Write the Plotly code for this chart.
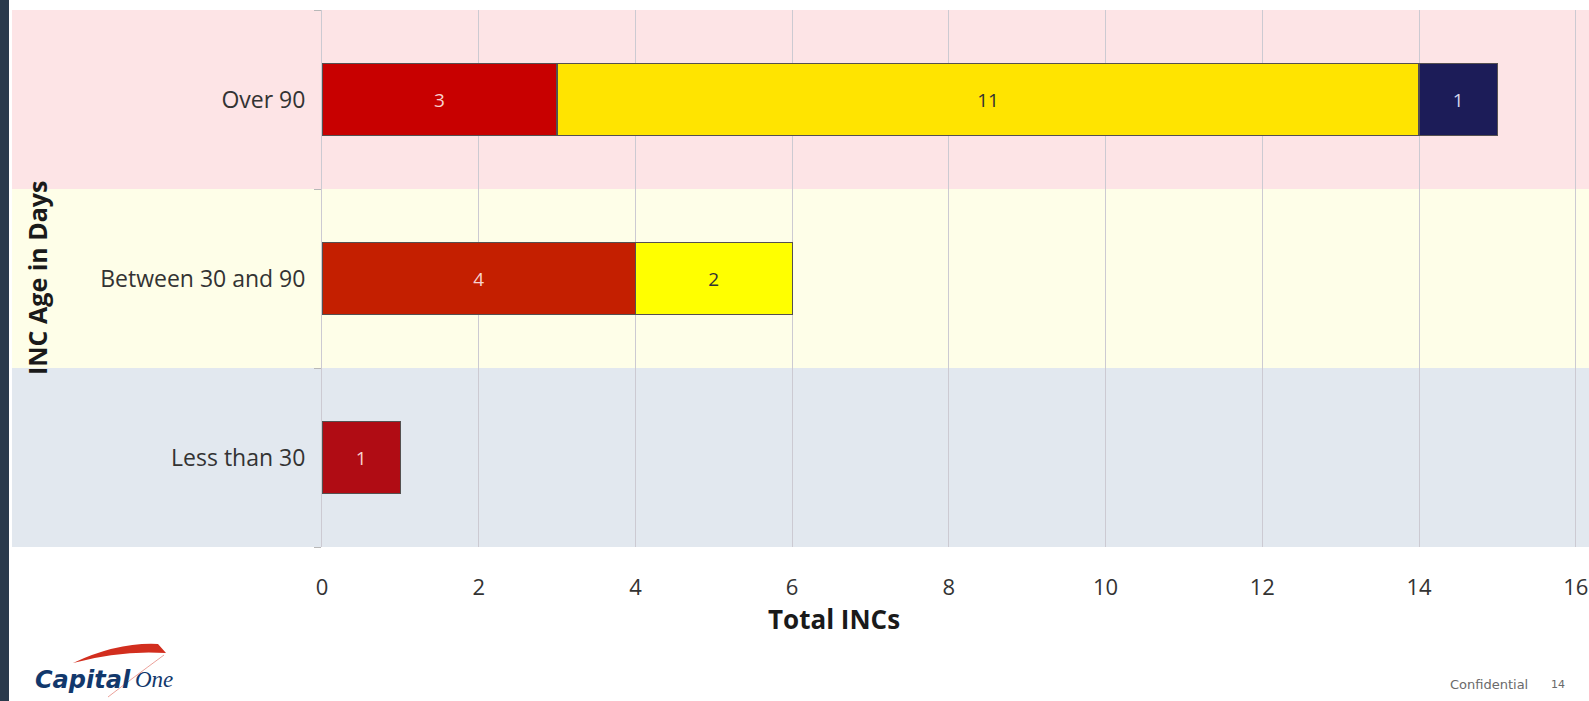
import plotly.graph_objects as go

# ---- data ----
categories = ["Less than 30", "Between 30 and 90", "Over 90"]
red_counts = [1, 4, 3]
yellow_counts = [None, 2, 11]
navy_counts = [None, None, 1]
x_ticks = [0, 2, 4, 6, 8, 10, 12, 14, 16]

red_colors = ["#B00C14", "#C41F00", "#C80000"]
yellow_colors = ["#FFFF00", "#FFFF00", "#FFE400"]
navy_colors = ["#1C1C58", "#1C1C58", "#1C1C58"]
band_colors = ["#E2E8EF", "#FEFEE8", "#FDE4E6"]

W, H = 1589, 701
L, T, B = 322, 10, 547


def px(x):
    return (x - L) / (W - L)


def py(y):
    return (B - y) / (B - T)


FONT = "Open Sans"
line = dict(color="#555050", width=1.2)

fig = go.Figure()
fig.add_trace(go.Bar(
    y=categories, x=red_counts, orientation="h", name="red",
    marker=dict(color=red_colors, line=line),
    texttemplate="%{x}", textposition="inside",
    insidetextanchor="middle",
    textfont=dict(family=FONT, size=19, color="#F7D3CF"),
    width=0.4, hoverinfo="skip",
))
fig.add_trace(go.Bar(
    y=categories, x=yellow_counts, orientation="h", name="yellow",
    marker=dict(color=yellow_colors, line=line),
    texttemplate="%{x}", textposition="inside", insidetextanchor="middle",
    textfont=dict(family=FONT, size=19, color="#333333"),
    width=0.4, hoverinfo="skip",
))
fig.add_trace(go.Bar(
    y=categories, x=navy_counts, orientation="h", name="navy",
    marker=dict(color=navy_colors, line=line),
    texttemplate="%{x}", textposition="inside", insidetextanchor="middle",
    textfont=dict(family=FONT, size=19, color="#D0D6EC"),
    width=0.4, hoverinfo="skip",
))

shapes = []
# dark left strip
shapes.append(dict(type="rect", xref="paper", yref="paper",
                   x0=px(0), x1=px(9), y0=py(H), y1=py(0),
                   fillcolor="#2A3A4C", line=dict(width=0), layer="below"))
# category bands
for i, c in enumerate(band_colors):
    shapes.append(dict(type="rect", xref="paper", yref="y",
                       x0=px(12), x1=1.0, y0=i - 0.5, y1=i + 0.5,
                       fillcolor=c, line=dict(width=0), layer="below"))
# Capital One swoosh
sw = "M {},{} Q {},{} {},{} L {},{} Q {},{} {},{} Z".format(
    px(73), py(663), px(118), py(642), px(158), py(644),
    px(166), py(653), px(120), py(650), px(73), py(663))
shapes.append(dict(type="path", xref="paper", yref="paper", path=sw,
                   fillcolor="#D22E1E", line=dict(width=0)))
tail = "M {},{} Q {},{} {},{}".format(px(164), py(655), px(130), py(680), px(108), py(697))
shapes.append(dict(type="path", xref="paper", yref="paper", path=tail,
                   line=dict(color="rgba(210,46,30,0.45)", width=1)))

annotations = [
    dict(text="<b>INC Age in Days</b>", xref="paper", yref="paper",
         x=px(37), y=py(278), textangle=-90, showarrow=False,
         font=dict(family=FONT, size=25, color="#1A1A1A"),
         xanchor="center", yanchor="middle"),
    dict(text="<b>Total INCs</b>", xref="paper", yref="paper",
         x=px(834), y=py(619), showarrow=False,
         font=dict(family=FONT, size=26, color="#1A1A1A"),
         xanchor="center", yanchor="middle"),
    dict(text="<b><i>Capital</i></b>", xref="paper", yref="paper",
         x=px(33), y=py(680), showarrow=False,
         font=dict(family="DejaVu Sans", size=24, color="#12386C"),
         xanchor="left", yanchor="middle"),
    dict(text="<i>One</i>", xref="paper", yref="paper",
         x=px(133), y=py(679), showarrow=False,
         font=dict(family="Liberation Serif", size=23, color="#12386C"),
         xanchor="left", yanchor="middle"),
    dict(text="Confidential", xref="paper", yref="paper",
         x=px(1489), y=py(684), showarrow=False,
         font=dict(family="DejaVu Sans", size=13, color="#6A6A6A"),
         xanchor="center", yanchor="middle"),
    dict(text="14", xref="paper", yref="paper",
         x=px(1558), y=py(684), showarrow=False,
         font=dict(family="DejaVu Sans", size=11, color="#6A6A6A"),
         xanchor="center", yanchor="middle"),
]

fig.update_layout(
    width=W, height=H,
    margin=dict(l=L, r=0, t=T, b=H - B, pad=0),
    barmode="stack", showlegend=False,
    paper_bgcolor="white", plot_bgcolor="rgba(0,0,0,0)",
    shapes=shapes, annotations=annotations,
    font=dict(family=FONT, color="#333333"),
    hovermode=False,
)
fig.update_xaxes(
    range=[0, (W - L) / ((1419 - L) / 14)],
    tickvals=x_ticks, ticktext=[str(v) for v in x_ticks],
    showgrid=True, gridcolor="#CCCAD2", gridwidth=1,
    zeroline=False, showline=False,
    ticks="", ticklabelstandoff=25,
    tickfont=dict(family=FONT, size=22, color="#333333"),
)
fig.update_yaxes(
    categoryorder="array", categoryarray=categories,
    range=[-0.5, 2.5],
    showgrid=False, zeroline=False,
    showline=True, linecolor="#CCCAD2", linewidth=1,
    ticks="outside", tickson="boundaries", ticklen=7, tickcolor="#B8B8B8",
    ticklabelstandoff=11,
    tickfont=dict(family=FONT, size=23, color="#333333"),
)

fig.write_html(
    "out.html",
    config={"displayModeBar": False},
    post_script="document.body.style.margin='0';document.body.style.overflow='hidden';",
)
